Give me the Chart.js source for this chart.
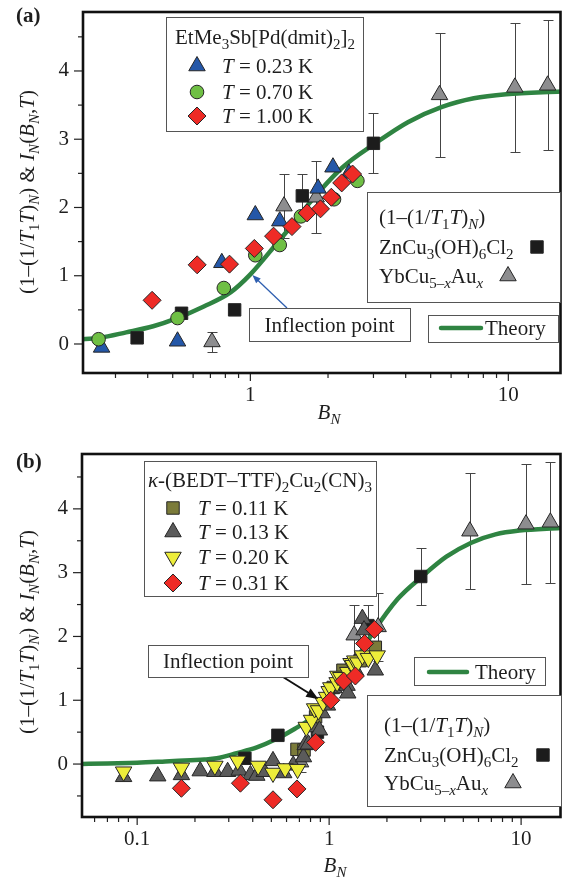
<!DOCTYPE html>
<html>
<head>
<meta charset="utf-8">
<title>Scaled relaxation rate versus B_N</title>
<script src="https://cdn.jsdelivr.net/npm/chart.js@4.4.1/dist/chart.umd.min.js"></script>
<style>
  html, body { margin: 0; padding: 0; background: #fff; }
  body { width: 571px; height: 878px; position: relative; overflow: hidden; }
  canvas { position: absolute; left: 0; }
  #chartA { top: 0; }
  #chartB { top: 439px; }
</style>
</head>
<body>
<canvas id="chartA" width="571" height="439"></canvas>
<canvas id="chartB" width="571" height="439"></canvas>
<script>
// ---------- data ----------
// theory curve
const theoryX = [0.05, 0.07, 0.1, 0.14, 0.19, 0.224, 0.26, 0.33, 0.42, 0.52, 0.66, 0.84, 1.0, 1.27, 1.51, 1.69, 2.28, 3.05, 4.08, 5.5, 7.35, 9.8, 16];
const theoryY = [0.00, 0.01, 0.02, 0.04, 0.06, 0.07, 0.09, 0.17, 0.26, 0.38, 0.55, 0.76, 1.02, 1.48, 1.82, 2.06, 2.59, 2.94, 3.25, 3.47, 3.60, 3.66, 3.70];

// EtMe3Sb[Pd(dmit)2]2
const etTemps = [0.23, 0.70, 1.00];
const et023X = [0.265, 0.522, 0.775, 1.045, 1.30, 1.83, 2.09, 2.41];
const et023Y = [-0.05, 0.04, 1.19, 1.89, 1.80, 2.28, 2.59, 2.50];
const et070X = [0.258, 0.522, 0.789, 1.045, 1.30, 1.57, 2.11, 2.60];
const et070Y = [0.07, 0.38, 0.82, 1.30, 1.45, 1.87, 2.12, 2.39];
const et100X = [0.416, 0.622, 0.83, 1.036, 1.23, 1.45, 1.66, 1.87, 2.06, 2.26, 2.49];
const et100Y = [0.64, 1.16, 1.17, 1.40, 1.58, 1.72, 1.92, 1.98, 2.15, 2.36, 2.49];

// ZnCu3(OH)6Cl2 and YbCu5-xAux, 1-(1/T1T)_N with error bars
const zncuX = [0.364, 0.541, 0.869, 1.59, 3.0];
const zncuY = [0.09, 0.45, 0.50, 2.17, 2.94];
const zncuErr = [0, 0, 0, 0.32, 0.44];
const ybcuX = [0.71, 1.35, 1.80, 5.41, 10.6, 14.2];
const ybcuY = [0.03, 2.02, 2.15, 3.65, 3.76, 3.79];
const ybcuErr = [0.15, 0.47, 0.53, 0.91, 0.94, 0.95];

// kappa-(BEDT-TTF)2Cu2(CN)3
const kTemps = [0.11, 0.13, 0.20, 0.31];
const k011X = [0.68, 0.74, 0.85, 1.05, 1.18, 1.45, 1.74];
const k011Y = [0.23, 0.22, 0.74, 1.20, 1.47, 1.62, 1.83];
const k013X = [0.085, 0.128, 0.17, 0.213, 0.254, 0.296, 0.34, 0.389, 0.42, 0.459, 0.51, 0.58, 0.65, 0.735, 0.75, 0.78, 0.83, 0.89, 0.92, 0.98, 1.06, 1.18, 1.24, 1.25, 1.37, 1.49, 1.52, 1.74];
const k013Y = [-0.20, -0.19, -0.17, -0.11, -0.12, -0.12, -0.10, -0.17, -0.18, -0.12, 0.05, -0.14, -0.02, 0.11, 0.30, 0.31, 0.58, 0.53, 0.80, 0.92, 1.19, 1.33, 1.23, 1.11, 1.47, 2.28, 2.10, 1.47];
const k020X = [0.085, 0.17, 0.254, 0.334, 0.427, 0.51, 0.59, 0.685, 0.76, 0.81, 0.84, 0.88, 0.93, 0.97, 1.0, 1.02, 1.1, 1.11, 1.15, 1.25, 1.3, 1.33, 1.36, 1.41, 1.49, 1.6, 1.78];
const k020Y = [-0.12, -0.06, -0.03, 0.05, -0.03, -0.14, -0.07, -0.08, 0.58, 0.69, 0.87, 0.84, 0.97, 1.05, 1.14, 1.20, 1.28, 1.38, 1.36, 1.44, 1.58, 1.55, 1.62, 1.59, 1.70, 1.66, 1.70];
const k031X = [0.17, 0.345, 0.51, 0.68, 0.85, 1.02, 1.19, 1.37, 1.53, 1.72];
const k031Y = [-0.38, -0.30, -0.56, -0.39, 0.34, 1.00, 1.30, 1.38, 1.89, 2.11];

// axis ticks
const xTickLabels = [0.1, 1, 10];
const yTickLabels = [0, 1, 2, 3, 4];

// ---------- styling ----------
const SERIF = '"Liberation Serif", "Times New Roman", Times, serif';
const INK = '#1e1e1e';
const GREEN_LINE = '#2f8442';
const FS = 21;

// rich text: list of [text, flags], flags 'i' = italic, 's' = subscript
function segFont(size, f) {
  const sub = f.indexOf('s') >= 0, it = f.indexOf('i') >= 0;
  return (it ? 'italic ' : '') + Math.round(sub ? size * 0.72 : size) + 'px ' + SERIF;
}
function richWidth(ctx, segs, size) {
  let w = 0;
  segs.forEach(([t, f = '']) => { ctx.font = segFont(size, f); w += ctx.measureText(t).width; });
  return w;
}
function drawRich(ctx, segs, x, y, size, align) {
  if (align === 'center') x -= richWidth(ctx, segs, size) / 2;
  ctx.textAlign = 'left';
  ctx.textBaseline = 'alphabetic';
  ctx.fillStyle = INK;
  segs.forEach(([t, f = '']) => {
    ctx.font = segFont(size, f);
    ctx.fillText(t, x, y + (f.indexOf('s') >= 0 ? size * 0.22 : 0));
    x += ctx.measureText(t).width;
  });
}

const etTitle = [['EtMe'], ['3', 's'], ['Sb[Pd(dmit)'], ['2', 's'], [']'], ['2', 's']];
const kTitle = [['κ', 'i'], ['-(BEDT–TTF)'], ['2', 's'], ['Cu'], ['2', 's'], ['(CN)'], ['3', 's']];
const refHead = [['(1–(1/'], ['T', 'i'], ['1', 's'], ['T', 'i'], [')'], ['N', 'is'], [')']];
const zncuName = [['ZnCu'], ['3', 's'], ['(OH)'], ['6', 's'], ['Cl'], ['2', 's']];
const ybcuName = [['YbCu'], ['5–', 's'], ['x', 'is'], ['Au'], ['x', 'is']];
const yTitle = refHead.concat([[' & '], ['I', 'i'], ['N', 'is'], ['('], ['B', 'i'], ['N', 'is'], [','], ['T', 'i'], [')']]);
const xTitle = [['B', 'i'], ['N', 'is']];
const tempLabel = t => [['T', 'i'], [' = ' + t.toFixed(2) + ' K']];

function pts(xs, ys) { return xs.map((x, i) => ({ x, y: ys[i] })); }

function markers(key, xs, ys, style, color, r, order, extra) {
  return Object.assign({
    key, label: key, data: pts(xs, ys),
    pointStyle: style, pointRadius: r, pointHoverRadius: r,
    backgroundColor: color, borderColor: '#262626', borderWidth: 1,
    showLine: false, order
  }, extra || {});
}
function theorySet() {
  return {
    key: 'theory', label: 'Theory', data: pts(theoryX, theoryY), showLine: true,
    borderColor: GREEN_LINE, borderWidth: 4.5, pointRadius: 0,
    cubicInterpolationMode: 'monotone', fill: false, order: 10
  };
}
function refSets(order) {
  return [
    markers('zncu', zncuX, zncuY, 'rect', '#1c1c1c', 8.8, order, { err: zncuErr }),
    markers('ybcu', ybcuX, ybcuY, 'triangle', '#8d8d8f', 9.5, order + 1, { err: ybcuErr })
  ];
}

// ---------- decorations drawn on top of the library's scales ----------
function strokeLine(ctx, x1, y1, x2, y2) {
  ctx.beginPath(); ctx.moveTo(x1, y1); ctx.lineTo(x2, y2); ctx.stroke();
}
function whiteBox(ctx, [l, t, r, b]) {
  ctx.fillStyle = '#fff';
  ctx.fillRect(l, t, r - l, b - t);
  ctx.strokeStyle = '#555';
  ctx.lineWidth = 1;
  ctx.strokeRect(l + 0.5, t + 0.5, r - l, b - t);
}
function drawMarker(ctx, ds, x, y) {
  ctx.save();
  ctx.fillStyle = ds.backgroundColor;
  ctx.strokeStyle = ds.borderColor;
  ctx.lineWidth = ds.borderWidth;
  Chart.helpers.drawPoint(ctx, {
    pointStyle: ds.pointStyle, radius: ds.pointRadius,
    rotation: ds.pointRotation || 0, borderWidth: ds.borderWidth
  }, x, y);
  ctx.restore();
}
function errorBars(chart) {
  const { ctx, scales: { x, y } } = chart;
  ctx.save();
  ctx.strokeStyle = '#444';
  ctx.lineWidth = 1;
  chart.data.datasets.forEach(ds => {
    if (!ds.err) return;
    ds.data.forEach((p, i) => {
      const e = ds.err[i];
      if (!e) return;
      const px = Math.round(x.getPixelForValue(p.x)) + 0.5;
      const top = Math.round(y.getPixelForValue(p.y + e)) + 0.5;
      const bot = Math.round(y.getPixelForValue(p.y - e)) + 0.5;
      strokeLine(ctx, px, top, px, bot);
      strokeLine(ctx, px - 5, top, px + 5, top);
      strokeLine(ctx, px - 5, bot, px + 5, bot);
    });
  });
  ctx.restore();
}
function frameAndTicks(chart) {
  const { ctx, chartArea: a, scales: { x, y } } = chart;
  ctx.save();
  ctx.strokeStyle = '#222';
  ctx.lineWidth = 1.2;
  for (let e = -2; e <= 1; e++) {
    for (let m = 1; m <= 9; m++) {
      const v = m * Math.pow(10, e);
      if (v < x.min || v > x.max) continue;
      const px = x.getPixelForValue(v);
      strokeLine(ctx, px, a.bottom, px, a.bottom + (m === 1 ? 8 : 5));
    }
  }
  for (let k = Math.ceil(y.min * 2); k <= Math.floor(y.max * 2); k++) {
    const py = y.getPixelForValue(k / 2);
    strokeLine(ctx, a.left, py, a.left - (k % 2 === 0 ? 9 : 5), py);
  }
  ctx.strokeStyle = '#111';
  ctx.lineWidth = 2.6;
  ctx.strokeRect(a.left, a.top, a.right - a.left, a.bottom - a.top);
  ctx.restore();
}
function inflectionNote(chart, n) {
  const { ctx, scales: { x, y } } = chart;
  const tx = x.getPixelForValue(n.tip[0]), ty = y.getPixelForValue(n.tip[1]);
  const [sx, sy] = n.tail;
  const ang = Math.atan2(ty - sy, tx - sx);
  ctx.save();
  ctx.strokeStyle = n.color;
  ctx.fillStyle = n.color;
  ctx.lineWidth = n.width;
  strokeLine(ctx, sx, sy, tx - Math.cos(ang) * n.head * 0.8, ty - Math.sin(ang) * n.head * 0.8);
  ctx.beginPath();
  ctx.moveTo(tx, ty);
  ctx.lineTo(tx - n.head * Math.cos(ang - 0.38), ty - n.head * Math.sin(ang - 0.38));
  ctx.lineTo(tx - n.head * Math.cos(ang + 0.38), ty - n.head * Math.sin(ang + 0.38));
  ctx.closePath();
  ctx.fill();
  ctx.restore();
  whiteBox(ctx, n.box);
  drawRich(ctx, [['Inflection point']], (n.box[0] + n.box[2]) / 2, n.box[3] - 9, FS, 'center');
}
function drawLegends(chart, d) {
  const ctx = chart.ctx;
  const byKey = k => chart.data.datasets.find(ds => ds.key === k);

  const s = d.samples;
  whiteBox(ctx, s.box);
  drawRich(ctx, s.title, s.titleAt[0], s.titleAt[1], FS);
  s.rows.forEach(row => {
    const ds = byKey(row.key);
    drawMarker(ctx, ds, s.markerX, row.y);
    drawRich(ctx, tempLabel(ds.temp), s.textX, row.y + 7, FS);
  });

  const r = d.refs;
  whiteBox(ctx, r.box);
  drawRich(ctx, refHead, r.textX, r.lines[0], FS);
  drawRich(ctx, zncuName, r.textX, r.lines[1], FS);
  drawRich(ctx, ybcuName, r.textX, r.lines[2], FS);
  drawMarker(ctx, byKey('zncu'), r.squareAt[0], r.squareAt[1]);
  drawMarker(ctx, byKey('ybcu'), r.triangleAt[0], r.triangleAt[1]);

  const t = d.theory;
  whiteBox(ctx, t.box);
  ctx.save();
  ctx.strokeStyle = GREEN_LINE;
  ctx.lineWidth = 4.5;
  ctx.lineCap = 'round';
  strokeLine(ctx, t.line[0], t.line[2], t.line[1], t.line[2]);
  ctx.restore();
  drawRich(ctx, [['Theory']], t.textAt[0], t.textAt[1], FS);
}
function drawTitles(chart, d) {
  const ctx = chart.ctx;
  ctx.save();
  ctx.font = 'bold 21px ' + SERIF;
  ctx.fillStyle = INK;
  ctx.textAlign = 'left';
  ctx.textBaseline = 'alphabetic';
  ctx.fillText(d.panel, d.panelAt[0], d.panelAt[1]);
  ctx.restore();
  drawRich(ctx, xTitle, d.xTitleAt[0], d.xTitleAt[1], FS, 'center');
  ctx.save();
  ctx.translate(d.yTitleAt[0], d.yTitleAt[1]);
  ctx.rotate(-Math.PI / 2);
  drawRich(ctx, yTitle, 0, 7, FS, 'center');
  ctx.restore();
}

const decorations = {
  chartA: {
    panel: '(a)', panelAt: [16, 22], xTitleAt: [329, 419], yTitleAt: [27, 192],
    note: { box: [249, 308, 410, 341], tail: [287, 308], tip: [1.018, 1.01], color: '#2f5fb0', width: 1.3, head: 9 },
    samples: {
      box: [166, 17, 363, 131], title: etTitle, titleAt: [175, 44], markerX: 197, textX: 222,
      rows: [{ key: 'et023', y: 66 }, { key: 'et070', y: 92 }, { key: 'et100', y: 116 }]
    },
    refs: { box: [367, 192, 560, 302], textX: 379, lines: [224, 254, 283], squareAt: [537, 247], triangleAt: [508, 276] },
    theory: { box: [428, 315, 558, 342], line: [441, 481, 328], textAt: [485, 335] }
  },
  chartB: {
    panel: '(b)', panelAt: [16, 29], xTitleAt: [335, 433], yTitleAt: [27, 193],
    note: { box: [148, 206, 308, 238], tail: [283, 238], tip: [0.878, 1.02], color: '#111', width: 2, head: 13 },
    samples: {
      box: [144, 22, 376, 157], title: kTitle, titleAt: [148, 48], markerX: 173, textX: 198,
      rows: [{ key: 'k011', y: 69 }, { key: 'k013', y: 93 }, { key: 'k020', y: 118 }, { key: 'k031', y: 144 }]
    },
    refs: { box: [367, 256, 561, 367], textX: 384, lines: [293, 323, 351], squareAt: [543, 316], triangleAt: [513, 344] },
    theory: { box: [414, 218, 545, 246], line: [429, 467, 233], textAt: [475, 240] }
  }
};

const deco = {
  id: 'deco',
  beforeDatasetsDraw(chart) { errorBars(chart); },
  afterDatasetsDraw(chart) {
    const d = decorations[chart.canvas.id];
    frameAndTicks(chart);
    inflectionNote(chart, d.note);
    drawLegends(chart, d);
    drawTitles(chart, d);
  }
};

function makeChart(id, datasets, ax) {
  const tickFont = { family: SERIF, size: FS };
  return new Chart(document.getElementById(id), {
    type: 'scatter',
    data: { datasets },
    options: {
      responsive: false,
      animation: false,
      events: [],
      layout: { padding: { left: 0, right: 3, top: ax.top, bottom: 0 } },
      plugins: { legend: { display: false }, tooltip: { enabled: false } },
      scales: {
        x: {
          type: 'logarithmic', min: ax.xMin, max: ax.xMax,
          grid: { display: false, drawTicks: false }, border: { display: false },
          ticks: { font: tickFont, color: INK, padding: 10, autoSkip: false, maxRotation: 0, callback: v => String(v) },
          afterBuildTicks: s => { s.ticks = xTickLabels.filter(v => v >= s.min && v <= s.max).map(v => ({ value: v })); },
          afterFit: s => { s.height = ax.xAxisH; s.paddingLeft = 0; s.paddingRight = 0; s.paddingTop = 0; s.paddingBottom = 0; }
        },
        y: {
          type: 'linear', min: ax.yMin, max: ax.yMax,
          grid: { display: false, drawTicks: false }, border: { display: false },
          ticks: { font: tickFont, color: INK, padding: 14, callback: v => String(v) },
          afterBuildTicks: s => { s.ticks = yTickLabels.map(v => ({ value: v })); },
          afterFit: s => { s.width = ax.yAxisW; s.paddingLeft = 0; s.paddingRight = 0; s.paddingTop = 0; s.paddingBottom = 0; }
        }
      }
    },
    plugins: [deco]
  });
}

// panel (a): EtMe3Sb[Pd(dmit)2]2
makeChart('chartA', [
  markers('et100', et100X, et100Y, 'rectRot', '#ee2b26', 9, 1, { temp: etTemps[2] }),
  markers('et070', et070X, et070Y, 'circle', '#6fbf44', 6.8, 2, { temp: etTemps[1] }),
  markers('et023', et023X, et023Y, 'triangle', '#2457a8', 9.5, 3, { temp: etTemps[0] }),
  ...refSets(4),
  theorySet()
], { xMin: 0.2245, xMax: 15.93, yMin: -0.425, yMax: 4.864, top: 12, xAxisH: 66, yAxisW: 83 });

// panel (b): kappa-(BEDT-TTF)2Cu2(CN)3
makeChart('chartB', [
  markers('k031', k031X, k031Y, 'rectRot', '#ee2b26', 9, 1, { temp: kTemps[3] }),
  markers('k020', k020X, k020Y, 'triangle', '#eded3a', 9.5, 2, { temp: kTemps[2], pointRotation: 180, rotation: 180 }),
  markers('k013', k013X, k013Y, 'triangle', '#5b5b5b', 9.5, 3, { temp: kTemps[1] }),
  markers('k011', k011X, k011Y, 'rect', '#7b7b3a', 8.8, 4, { temp: kTemps[0] }),
  ...refSets(5),
  theorySet()
], { xMin: 0.0516, xMax: 16.04, yMin: -0.83, yMax: 4.86, top: 15, xAxisH: 61, yAxisW: 82 });
</script>
</body>
</html>
